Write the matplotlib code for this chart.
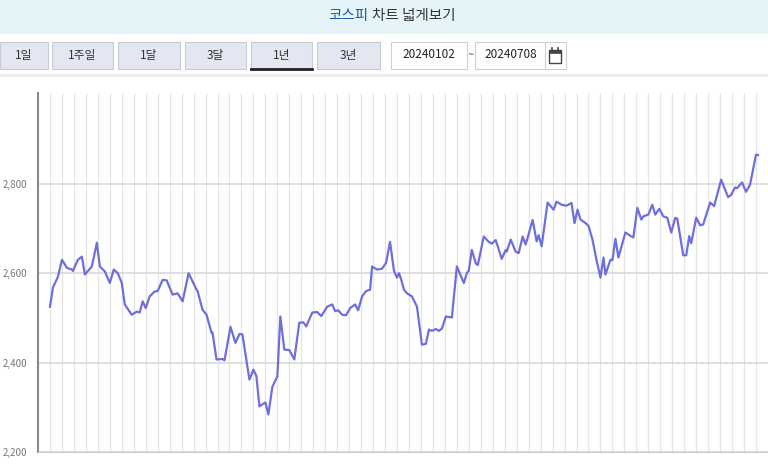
import matplotlib
matplotlib.use("Agg")
import matplotlib.pyplot as plt
import numpy as np
from matplotlib.patches import Rectangle

plt.rcParams['font.family'] = ['Noto Sans CJK KR', 'DejaVu Sans']

kospi = [2525,2568,2592,2630,2612,2608,2605,2630,2637,2597,2615,2668,2615,2604,2578,2608,2600,2578,2530,2507,
         2514,2512,2537,2522,2548,2559,2560,2585,2584,2552,2555,2537,2600,2563,2560,2518,2507,2467,2467,2407,
         2408,2405,2480,2444,2464,2463,2362,2384,2370,2302,2311,2284,2346,2369,2503,2429,2428,2407,2489,2490,
         2481,2512,2513,2504,2525,2530,2515,2517,2507,2506,2522,2530,2517,2548,2560,2563,2615,2608,2610,2623,
         2670,2605,2590,2600,2587,2563,2555,2548,2525,2440,2442,2474,2471,2475,2471,2476,2503,2501,2615,2578,
         2600,2606,2652,2622,2618,2682,2670,2666,2674,2632,2652,2648,2675,2648,2645,2682,2664,2719,2671,2685,
         2660,2758,2742,2760,2753,2751,2757,2712,2742,2720,2712,2706,2675,2630,2590,2635,2597,2630,2629,2677,
         2635,2691,2682,2680,2746,2720,2727,2731,2753,2731,2744,2727,2724,2691,2724,2722,2640,2640,2683,2667,
         2724,2707,2709,2758,2750,2809,2770,2775,2792,2790,2803,2782,2798,2865,2864]
# time position of each session (0 = 2024-01-02, 710 = 2024-07-08)
t = [0,3,8,12,17,22,23,28,32,35,42,47,50,55,60,64,68,72,75,82,
     87,90,93,96,100,105,108,113,117,123,128,133,139,147,148,153,157,162,163,167,
     173,175,181,186,190,193,200,204,207,210,216,219,223,228,231,235,240,245,250,254,
     257,263,268,272,278,283,286,289,293,297,301,306,309,313,317,321,323,328,333,337,
     341,345,348,350,352,355,358,363,368,373,377,380,383,387,390,393,397,403,408,415,
     418,420,423,427,429,435,440,443,447,453,457,458,462,467,470,474,477,484,488,490,
     493,499,505,508,513,518,523,526,529,532,537,540,544,548,552,555,557,562,564,567,
     570,577,583,585,589,593,595,600,604,607,611,615,619,623,627,629,635,638,641,643,
     648,652,655,662,666,673,680,683,687,689,694,698,702,708,710]
yticks = [2200, 2400, 2600, 2800]
buttons = ['1일', '1주일', '1달', '3달', '1년', '3년']

W, H = 768, 466
fig = plt.figure(figsize=(W/100, H/100), dpi=100)
fig.patch.set_facecolor('white')

def fx(px): return px / W
def fy(py): return 1 - py / H

# header band
fig.patches.append(Rectangle((0, fy(33)), 1, 33/H, transform=fig.transFigure, color='#e5f4f8', zorder=0))
fig.text(fx(368), fy(16), '코스피', color='#1f5a9c', fontsize=10.5, ha='right', va='center')
fig.text(fx(372), fy(16), '차트 넓게보기', color='#333333', fontsize=10.5, ha='left', va='center')

# buttons
bx = [(0, 48), (52, 113), (118, 180), (185, 246), (251, 312), (317, 380)]
for (x0, x1), lab in zip(bx, buttons):
    fig.patches.append(Rectangle((fx(x0), fy(69)), (x1-x0)/W, 27/H, transform=fig.transFigure,
                                 facecolor='#e4e6f2', edgecolor='#c8cad6', lw=0.8))
    fig.text(fx((x0+x1)/2), fy(55), lab, fontsize=8.5, ha='center', va='center', color='#333333')
fig.lines.append(plt.Line2D([fx(251), fx(312)], [fy(69), fy(69)], transform=fig.transFigure, color='#222222', lw=2))
for x0, x1 in [(391, 467), (475, 566)]:
    fig.patches.append(Rectangle((fx(x0), fy(69)), (x1-x0)/W, 27/H, transform=fig.transFigure,
                                 facecolor='white', edgecolor='#d0d0d0', lw=0.8))
fig.text(fx(429), fy(55), '20240102', fontsize=8.5, ha='center', va='center', color='#222222')
fig.text(fx(471), fy(55), '~', fontsize=8, ha='center', va='center', color='#555555')
fig.text(fx(511), fy(55), '20240708', fontsize=8.5, ha='center', va='center', color='#222222')
fig.lines.append(plt.Line2D([fx(545), fx(545)], [fy(43), fy(68)], transform=fig.transFigure, color='#d0d0d0', lw=0.8))
# calendar icon as shapes
fig.patches.append(Rectangle((fx(549), fy(63)), 12/W, 13/H, transform=fig.transFigure,
                             facecolor='white', edgecolor='#444444', lw=1.0))
fig.patches.append(Rectangle((fx(549), fy(53)), 12/W, 3/H, transform=fig.transFigure,
                             facecolor='#444444', edgecolor='#444444', lw=0.5))
for px in (552, 558):
    fig.lines.append(plt.Line2D([fx(px), fx(px)], [fy(48), fy(52)], transform=fig.transFigure, color='#444444', lw=1.2))
fig.lines.append(plt.Line2D([0, 1], [fy(75), fy(75)], transform=fig.transFigure, color='#eeeeee', lw=2))

# chart
ax = fig.add_axes([fx(38), fy(452), (768-38)/W, (452-93)/H])
ax.set_xlim(-12, 720)
ax.set_ylim(2200, 3003)
ax.plot(t, kospi, color='#6f6fdc', lw=1.6, zorder=3)
ax.set_yticks(yticks)
ax.set_yticklabels([f'{v:,}' for v in yticks], fontsize=7, color='#777777')
ax.tick_params(axis='y', length=0, pad=8)
ax.set_xticks(np.arange(0, 720, 12))
ax.tick_params(axis='x', length=0, labelbottom=False)
ax.grid(axis='x', color='#e4e4e4', lw=0.9)
ax.grid(axis='y', color='#d6d6d6', lw=1.1)
ax.set_axisbelow(True)
for s in ['top', 'right']:
    ax.spines[s].set_visible(False)
ax.spines['left'].set_color('#888888')
ax.spines['left'].set_linewidth(1.5)
ax.spines['bottom'].set_color('#cccccc')

fig.savefig('out.png', dpi=100)
